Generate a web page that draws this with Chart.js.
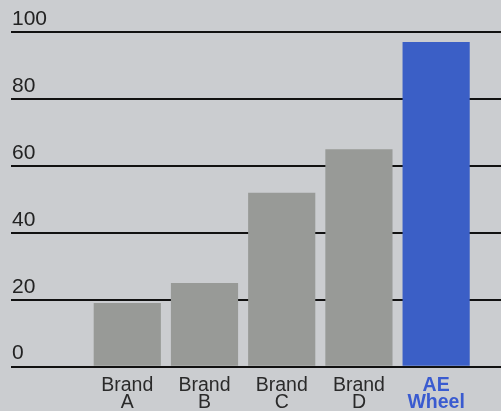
<!DOCTYPE html>
<html>
<head>
<meta charset="utf-8">
<script src="https://cdn.jsdelivr.net/npm/chart.js@4"></script>
<style>
  html, body { margin: 0; padding: 0; background: #cbcdd0; }
  #wrap { width: 501px; height: 411px; }
</style>
</head>
<body>
<div id="wrap"><canvas id="c" width="501" height="411"></canvas></div>
<script>
const categories = [['Brand', 'A'], ['Brand', 'B'], ['Brand', 'C'], ['Brand', 'D'], ['AE', 'Wheel']];
const values = [19, 25, 52, 65, 97];
const yTicks = [0, 20, 40, 60, 80, 100];
const barColors = ['#989a97', '#989a97', '#989a97', '#989a97', '#3b5fc6'];
const labelColors = ['#2a2a2a', '#2a2a2a', '#2a2a2a', '#2a2a2a', '#3a5bd0'];

const points = values.map((v, i) => ({ x: i, y: v }));

new Chart(document.getElementById('c'), {
  type: 'bar',
  data: {
    datasets: [{
      data: points,
      backgroundColor: barColors,
      borderWidth: 0,
      barPercentage: 0.87,
      categoryPercentage: 1.0
    }]
  },
  options: {
    responsive: false,
    devicePixelRatio: 1,
    animation: false,
    layout: { padding: { left: 9, right: 0, top: 32, bottom: -2 } },
    plugins: { legend: { display: false }, tooltip: { enabled: false } },
    scales: {
      x: {
        type: 'linear',
        offset: false,
        min: -1.506,
        max: 4.84,
        grid: { display: false, offset: false },
        border: { display: false },
        afterBuildTicks: (scale) => { scale.ticks = categories.map((_, i) => ({ value: i })); },
        ticks: {
          autoSkip: false,
          maxRotation: 0,
          padding: 2,
          callback: (value) => categories[value] || '',
          color: (ctx) => labelColors[ctx.index] || '#2a2a2a',
          font: (ctx) => ({
            family: 'Liberation Sans, Arial, sans-serif',
            size: 19.5,
            weight: ctx.index === 4 ? 'bold' : 'normal',
            lineHeight: 0.88
          })
        }
      },
      y: {
        min: 0,
        max: 100,
        grid: { color: '#111111', lineWidth: 2, drawTicks: false },
        border: { display: false },
        afterBuildTicks: (scale) => { scale.ticks = yTicks.map(v => ({ value: v })); },
        ticks: {
          mirror: true,
          padding: 1,
          labelOffset: -13,
          color: '#222222',
          font: { family: 'Liberation Sans, Arial, sans-serif', size: 21 }
        }
      }
    }
  }
});
</script>
</body>
</html>
